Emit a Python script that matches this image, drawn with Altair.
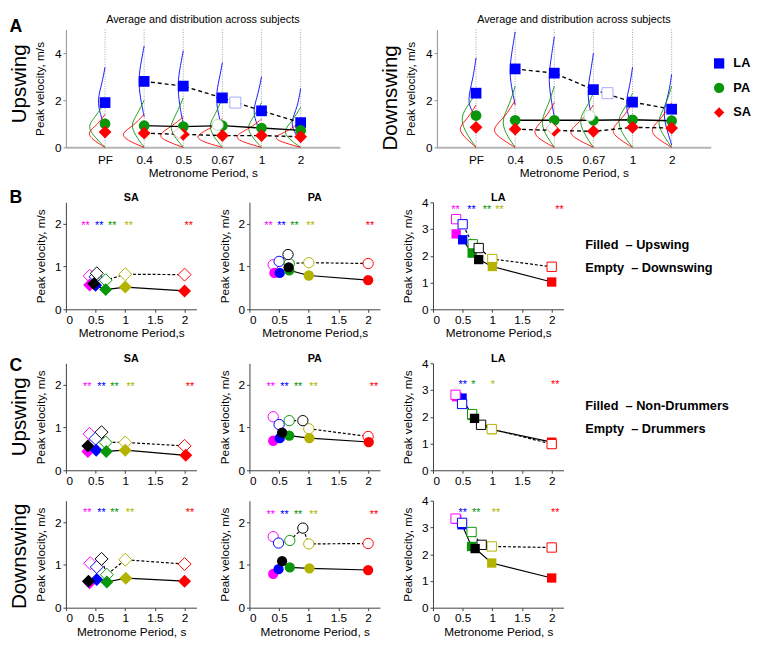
import altair as alt
import pandas as pd

FONT = "Liberation Sans"
BLUE = "#0000ff"
GREEN = "#0a960a"
RED = "#ff0000"
MAGENTA = "#ff00ff"
OLIVE = "#b3b300"
BLACK = "#000000"

# ---------------- Panel A: averages ----------------
A_categories = ["PF", "0.4", "0.5", "0.67", "1", "2"]
A_arms = ["LA", "PA", "SA"]
A_up_LA = [1.9, 2.8, 2.6, 2.1, 1.55, 1.05]
A_up_PA = [1.0, 0.92, 0.88, 0.92, 0.82, 0.72]
A_up_SA = [0.65, 0.6, 0.55, 0.5, 0.5, 0.45]
A_dn_LA = [2.3, 3.33, 3.15, 2.45, 1.92, 1.62]
A_dn_PA = [1.35, 1.15, 1.15, 1.15, 1.17, 1.13]
A_dn_SA = [0.85, 0.77, 0.72, 0.68, 0.85, 0.82]
# open (projected) markers
A_up_open_x = [4.33, 3.88, 2.88]
A_up_open_y = [1.9, 0.95, 0.6]
A_dn_open_x = [4.36, 3.9, 2.93]
A_dn_open_y = [2.3, 1.35, 0.82]
A_open_stroke = ["#a8a8ff", "#b8dcb8", "#ffb8b8"]

# distribution curves: (velocity, leftward width in category units), per category
A_up_curve_LA = [
    [(0.8, 0), (1.4, 0.12), (2.0, 0.2), (2.7, 0.08), (3.4, 0)],
    [(1.3, 0), (2.1, 0.1), (2.9, 0.15), (3.7, 0.07), (4.3, 0)],
    [(1.0, 0), (1.8, 0.1), (2.7, 0.15), (3.5, 0.07), (4.1, 0)],
    [(0.8, 0), (1.5, 0.12), (2.2, 0.17), (2.9, 0.08), (3.6, 0)],
    [(0.5, 0), (1.1, 0.15), (1.6, 0.22), (2.3, 0.08), (3.0, 0)],
    [(0.2, 0), (0.7, 0.18), (1.1, 0.25), (1.7, 0.08), (2.5, 0)],
]
A_up_curve_PA = [
    [(0, 0), (0.5, 0.3), (0.9, 0.45), (1.3, 0.25), (1.9, 0)],
    [(0, 0), (0.5, 0.22), (0.95, 0.35), (1.4, 0.18), (2.0, 0)],
    [(0, 0), (0.5, 0.25), (0.9, 0.35), (1.4, 0.18), (2.1, 0)],
    [(0, 0), (0.5, 0.25), (0.95, 0.35), (1.4, 0.18), (2.1, 0)],
    [(0, 0), (0.45, 0.25), (0.85, 0.38), (1.3, 0.2), (1.9, 0)],
    [(0, 0), (0.35, 0.3), (0.7, 0.45), (1.1, 0.22), (1.7, 0)],
]
A_up_curve_SA = [
    [(0, 0), (0.35, 0.35), (0.65, 0.45), (0.95, 0.2), (1.4, 0)],
    [(0, 0), (0.3, 0.45), (0.6, 0.6), (0.9, 0.28), (1.4, 0)],
    [(0, 0), (0.3, 0.5), (0.55, 0.65), (0.9, 0.28), (1.3, 0)],
    [(0, 0), (0.25, 0.55), (0.5, 0.7), (0.8, 0.3), (1.2, 0)],
    [(0, 0), (0.25, 0.55), (0.5, 0.7), (0.8, 0.3), (1.2, 0)],
    [(0, 0), (0.25, 0.55), (0.45, 0.7), (0.7, 0.3), (1.1, 0)],
]
A_dn_curve_LA = [
    [(1.2, 0), (1.6, 0.12), (2.0, 0.22), (2.9, 0.08), (3.8, 0)],
    [(1.8, 0), (2.6, 0.1), (3.3, 0.15), (4.2, 0.07), (4.9, 0)],
    [(1.3, 0), (2.2, 0.1), (3.0, 0.15), (3.9, 0.07), (4.7, 0)],
    [(1.0, 0), (1.7, 0.1), (2.4, 0.16), (3.2, 0.07), (4.0, 0)],
    [(0.8, 0), (1.4, 0.12), (1.9, 0.18), (2.6, 0.07), (3.4, 0)],
    [(0.1, 0), (0.9, 0.15), (1.5, 0.22), (2.3, 0.07), (3.1, 0)],
]
A_dn_curve_PA = [
    [(0, 0), (0.7, 0.3), (1.3, 0.4), (1.8, 0.2), (2.3, 0)],
    [(0, 0), (0.6, 0.25), (1.15, 0.35), (1.8, 0.15), (2.6, 0)],
    [(0, 0), (0.6, 0.25), (1.15, 0.35), (1.8, 0.15), (2.6, 0)],
    [(0, 0), (0.6, 0.25), (1.2, 0.38), (1.7, 0.17), (2.3, 0)],
    [(0, 0), (0.6, 0.28), (1.2, 0.4), (1.7, 0.18), (2.3, 0)],
    [(0, 0), (0.6, 0.25), (1.1, 0.38), (1.8, 0.15), (2.6, 0)],
]
A_dn_curve_SA = [
    [(0, 0), (0.5, 0.35), (0.85, 0.45), (1.25, 0.2), (1.8, 0)],
    [(0, 0), (0.45, 0.45), (0.8, 0.6), (1.3, 0.25), (2.0, 0)],
    [(0, 0), (0.4, 0.45), (0.75, 0.55), (1.25, 0.22), (1.9, 0)],
    [(0, 0), (0.4, 0.5), (0.7, 0.65), (1.2, 0.25), (1.8, 0)],
    [(0, 0), (0.45, 0.45), (0.8, 0.55), (1.3, 0.22), (1.9, 0)],
    [(0, 0), (0.45, 0.45), (0.8, 0.55), (1.3, 0.22), (1.9, 0)],
]

# ---------------- Panels B / C ----------------
# condition order: 0.4 (magenta), 0.5 (blue), 0.67 (green), 1 (olive), 2 (red), PF (black)
COND_COLORS = [MAGENTA, BLUE, GREEN, OLIVE, RED, BLACK]

B_SA_fill_x = [0.4, 0.5, 0.67, 1.0, 2.0, 0.47]
B_SA_fill_y = [0.57, 0.56, 0.46, 0.52, 0.43, 0.60]
B_SA_empty_x = [0.4, 0.5, 0.67, 1.0, 2.0, 0.52]
B_SA_empty_y = [0.78, 0.76, 0.68, 0.82, 0.81, 0.84]
B_SA_star_x = [0.33, 0.56, 0.78, 1.06, 2.07]
B_SA_star_y = 2.0
B_SA_star_t = ["**", "**", "**", "**", "**"]

B_PA_fill_x = [0.42, 0.51, 0.67, 1.0, 2.0, 0.66]
B_PA_fill_y = [0.85, 0.85, 0.91, 0.79, 0.68, 0.98]
B_PA_empty_x = [0.4, 0.5, 0.67, 1.0, 2.0, 0.65]
B_PA_empty_y = [1.04, 1.12, 1.07, 1.09, 1.07, 1.28]
B_PA_star_x = [0.32, 0.54, 0.76, 1.03, 2.03]
B_PA_star_y = 2.0
B_PA_star_t = ["**", "**", "**", "**", "**"]

B_LA_fill_x = [0.39, 0.5, 0.66, 1.0, 2.0, 0.77]
B_LA_fill_y = [2.82, 2.6, 2.1, 1.6, 1.02, 1.86]
B_LA_empty_x = [0.39, 0.5, 0.67, 1.0, 2.0, 0.77]
B_LA_empty_y = [3.37, 3.18, 2.43, 1.88, 1.59, 2.29]
B_LA_star_x = [0.38, 0.65, 0.91, 1.12, 2.13]
B_LA_star_y = 3.8
B_LA_star_t = ["**", "**", "**", "**", "**"]

C1_SA_fill_x = [0.37, 0.51, 0.68, 1.0, 2.02, 0.37]
C1_SA_fill_y = [0.44, 0.47, 0.44, 0.47, 0.35, 0.57]
C1_SA_empty_x = [0.4, 0.5, 0.67, 1.0, 2.0, 0.6]
C1_SA_empty_y = [0.85, 0.74, 0.65, 0.65, 0.57, 0.89]
C1_SA_star_x = [0.36, 0.6, 0.82, 1.09, 2.09]
C1_SA_star_y = 2.0
C1_SA_star_t = ["**", "**", "**", "**", "**"]

C1_PA_fill_x = [0.4, 0.51, 0.67, 1.01, 2.01, 0.55]
C1_PA_fill_y = [0.69, 0.75, 0.81, 0.75, 0.66, 0.88]
C1_PA_empty_x = [0.4, 0.5, 0.67, 1.0, 2.0, 0.9]
C1_PA_empty_y = [1.25, 1.07, 1.16, 0.97, 0.79, 1.16]
C1_PA_star_x = [0.36, 0.59, 0.82, 1.08, 2.1]
C1_PA_star_y = 2.0
C1_PA_star_t = ["**", "**", "**", "**", "**"]

C1_LA_fill_x = [0.4, 0.49, 0.66, 1.0, 2.0, 0.7]
C1_LA_fill_y = [2.75, 2.7, 2.05, 1.52, 1.05, 1.94]
C1_LA_empty_x = [0.38, 0.49, 0.66, 0.99, 2.0, 0.81]
C1_LA_empty_y = [2.82, 2.48, 2.1, 1.54, 0.98, 1.7]
C1_LA_star_x = [0.38, 0.5, 0.68, 1.01, 2.06]
C1_LA_star_y = 3.25
C1_LA_star_t = ["", "**", "*", "*", "**"]

C2_SA_fill_x = [0.4, 0.52, 0.69, 1.01, 2.0, 0.38]
C2_SA_fill_y = [0.58, 0.66, 0.6, 0.69, 0.62, 0.62]
C2_SA_empty_x = [0.41, 0.52, 0.69, 1.0, 2.0, 0.6]
C2_SA_empty_y = [1.04, 0.95, 0.77, 1.12, 1.02, 1.14]
C2_SA_star_x = [0.36, 0.6, 0.82, 1.08, 2.09]
C2_SA_star_y = 2.25
C2_SA_star_t = ["**", "**", "**", "**", "**"]

C2_PA_fill_x = [0.4, 0.49, 0.68, 1.01, 2.0, 0.55]
C2_PA_fill_y = [0.79, 0.9, 0.94, 0.92, 0.88, 1.09]
C2_PA_empty_x = [0.4, 0.49, 0.68, 1.0, 2.0, 0.9]
C2_PA_empty_y = [1.66, 1.51, 1.57, 1.49, 1.5, 1.86]
C2_PA_star_x = [0.36, 0.59, 0.82, 1.08, 2.1]
C2_PA_star_y = 2.22
C2_PA_star_t = ["**", "**", "**", "**", "**"]

C2_LA_fill_x = [0.4, 0.49, 0.65, 0.99, 2.0, 0.71]
C2_LA_fill_y = [3.3, 3.1, 2.29, 1.67, 1.11, 2.21]
C2_LA_empty_x = [0.38, 0.49, 0.65, 0.99, 2.0, 0.82]
C2_LA_empty_y = [3.33, 3.17, 2.83, 2.29, 2.25, 2.35]
C2_LA_star_x = [0.38, 0.5, 0.73, 1.06, 2.06]
C2_LA_star_y = 3.63
C2_LA_star_t = ["", "**", "**", "**", "**"]

# ---------------- layout constants ----------------
W_A, H_A = 279, 120
W_B, H_B = 133, 109
LETTER_X = -51
ROWLAB_X = -47


def one(text):
    return pd.DataFrame({"t": [text]})


def text_layer(text, x, y, size, weight="normal", angle=0, align="center"):
    kw = dict(font=FONT, fontSize=size, fontWeight=weight, align=align, baseline="middle",
              color="black")
    if angle:
        kw["angle"] = angle
    return alt.Chart(one(text)).mark_text(**kw).encode(
        x=alt.value(x), y=alt.value(y), text="t:N")


# ---------------- Panel A builder ----------------
def a_panel(LA, PA, SA, curves, ox, oy, row_label, row_frac, letter, legend):
    X = alt.X("x:Q", title="Metronome Period, s",
              scale=alt.Scale(domain=[0, 7], nice=False, zero=False),
              axis=alt.Axis(values=[1, 2, 3, 4, 5, 6],
                            labelExpr="['','PF','0.4','0.5','0.67','1','2'][datum.value]",
                            ticks=False, domainColor="#b4b4b4", domainWidth=2,
                            labelFontSize=12, labelPadding=7, titleFontSize=12,
                            titleFontWeight="normal", titlePadding=3, grid=False))
    Y = alt.Y("y:Q", title="Peak velocity, m/s",
              scale=alt.Scale(domain=[0, 5], nice=False),
              axis=alt.Axis(values=[0, 2, 4], format="d", tickSize=3,
                            domainColor="#909090", tickColor="#909090",
                            labelFontSize=12, labelPadding=2, titleFontSize=12,
                            titleFontWeight="normal", titlePadding=8, grid=False))
    guides = alt.Chart(pd.DataFrame({"x": [1, 2, 3, 4, 5, 6]})).mark_rule(
        color="#8c8c8c", strokeDash=[1, 1.5], strokeWidth=0.8
    ).encode(x=X, y=alt.value(0), y2=alt.value(H_A))

    rows = []
    for arm, col in zip(A_arms, [BLUE, GREEN, RED]):
        for i, curve in enumerate(curves[arm]):
            for k, (yy, w) in enumerate(curve):
                rows.append({"cid": f"{arm}{i}", "k": k, "x": i + 1 - w, "y": yy, "col": col})
    cdf = pd.DataFrame(rows)
    curv = alt.Chart(cdf).mark_line(strokeWidth=0.9, interpolate="basis").encode(
        x=X, y=Y, detail="cid:N", order="k:Q", stroke=alt.Stroke("col:N", scale=None))

    mrows = []
    for arm, vals in zip(A_arms, [LA, PA, SA]):
        for i, v in enumerate(vals):
            mrows.append({"arm": arm, "x": i + 1, "y": v})
    mdf = pd.DataFrame(mrows)
    dashed = alt.Chart(mdf[(mdf.arm != "PA") & (mdf.x >= 2)]).mark_line(
        color="black", strokeDash=[4, 3], strokeWidth=1.4).encode(x=X, y=Y, detail="arm:N")
    solid = alt.Chart(mdf[(mdf.arm == "PA") & (mdf.x >= 2)]).mark_line(
        color="black", strokeWidth=1.4).encode(x=X, y=Y)

    if legend:
        leg = alt.Legend(title=None, orient="none", legendX=W_A + 2, legendY=28,
                         symbolSize=110, labelFontSize=13, labelFontWeight="bold",
                         labelFont=FONT, labelColor="black", rowPadding=11,
                         labelOffset=8, symbolStrokeWidth=0)
    else:
        leg = None
    color = alt.Color("arm:N", scale=alt.Scale(domain=A_arms, range=[BLUE, GREEN, RED]), legend=leg)
    shape = alt.Shape("arm:N", scale=alt.Scale(domain=A_arms, range=["square", "circle", "diamond"]), legend=leg)
    sdf = mdf[mdf.arm != "SA"]
    ddf = mdf[mdf.arm == "SA"]
    pts = alt.Chart(sdf).mark_point(filled=True, opacity=1, size=120, strokeWidth=0).encode(
        x=X, y=Y, color=color, shape=shape)
    dia = alt.Chart(ddf).mark_point(filled=True, opacity=1, size=170, strokeWidth=0).encode(
        x=X, y=Y, color=color, shape=shape)
    odf = pd.DataFrame({"arm": A_arms, "x": ox, "y": oy, "sc": A_open_stroke})
    opn = alt.Chart(odf).mark_point(filled=True, fill="white", opacity=1, size=125, strokeWidth=1).encode(
        x=X, y=Y, shape=shape, stroke=alt.Stroke("sc:N", scale=None))

    layers = [guides, curv, dashed, solid, pts, dia, opn,
              text_layer(row_label, ROWLAB_X, H_A * row_frac, 21, angle=270),
              text_layer("Average and distribution across subjects", W_A / 2, -10, 11)]
    if letter:
        layers.append(text_layer(letter, LETTER_X, -3, 18, weight="bold"))
    return alt.layer(*layers).properties(width=W_A, height=H_A)


# ---------------- Panels B / C builder ----------------
SHAPES = {"SA": "diamond", "PA": "circle", "LA": "square"}
SIZES = {"SA": 175, "PA": 110, "LA": 90}


def bc_panel(arm, fx, fy, ex, ey, sx, sy, st, title=None, xtitle=None,
             letter=None, letter_dy=0, row_label=None, row_frac=0.5,
             legend_texts=None, empties_on_top=False):
    ydom = [0, 4] if arm == "LA" else [0, 2.5]
    yvals = [0, 1, 2, 3, 4] if arm == "LA" else [0, 1, 2]
    X = alt.X("x:Q", title=xtitle,
              scale=alt.Scale(domain=[0, 2.2], nice=False, zero=False),
              axis=alt.Axis(values=[0, 0.5, 1, 1.5, 2], format="~g", tickSize=3,
                            labelPadding=2, domainColor="#404040", tickColor="#404040",
                            labelFontSize=12, titleFontSize=12, titleFontWeight="normal",
                            titlePadding=3, grid=False))
    Y = alt.Y("y:Q", title="Peak velocity, m/s",
              scale=alt.Scale(domain=ydom, nice=False),
              axis=alt.Axis(values=yvals, format="d", tickSize=3, labelPadding=2,
                            domainColor="#404040", tickColor="#404040",
                            labelFontSize=12, titleFontSize=12, titleFontWeight="normal",
                            titlePadding=7, grid=False))
    shape = SHAPES[arm]
    size = SIZES[arm]
    fdf = pd.DataFrame({"x": fx, "y": fy, "c": COND_COLORS})
    edf = pd.DataFrame({"x": ex, "y": ey, "c": COND_COLORS})
    solid = alt.Chart(fdf).mark_line(color="black", strokeWidth=1.2).encode(x=X, y=Y)
    dashed = alt.Chart(edf).mark_line(color="black", strokeWidth=1.2, strokeDash=[3, 2]).encode(x=X, y=Y)

    def filled(df):
        return alt.Chart(df).mark_point(shape=shape, filled=True, size=size, opacity=1,
                                        strokeWidth=0).encode(
            x=X, y=Y, fill=alt.Fill("c:N", scale=None))

    def empty(df):
        return alt.Chart(df).mark_point(shape=shape, filled=True, fill="white", size=size,
                                        opacity=1, strokeWidth=1).encode(
            x=X, y=Y, stroke=alt.Stroke("c:N", scale=None))

    sdf = pd.DataFrame({"x": sx, "y": [sy] * len(sx), "t": st, "c": COND_COLORS[:5]})
    sdf = sdf[sdf.t != ""]
    stars = alt.Chart(sdf).mark_text(font=FONT, fontSize=11, baseline="middle", dy=2).encode(
        x=X, y=Y, text="t:N", fill=alt.Fill("c:N", scale=None))

    if empties_on_top:
        mid = [filled(fdf.iloc[:5]), empty(edf.iloc[:5])]
    else:
        mid = [empty(edf.iloc[:5]), filled(fdf.iloc[:5])]
    layers = [solid, dashed] + mid + [empty(edf.iloc[5:]), filled(fdf.iloc[5:]), stars]
    if title:
        layers.append(text_layer(title, W_B / 2, -4, 11, weight="bold"))
    if letter:
        layers.append(text_layer(letter, LETTER_X, letter_dy, 18, weight="bold"))
    if row_label:
        layers.append(text_layer(row_label, ROWLAB_X, H_B * row_frac, 21, angle=270))
    if legend_texts:
        for t, yy in zip(legend_texts, [44, 67]):
            layers.append(text_layer(t, 155, yy, 13, weight="bold", align="left"))
    return alt.layer(*layers).properties(width=W_B, height=H_B)


# ---------------- assemble ----------------
a_left = a_panel(A_up_LA, A_up_PA, A_up_SA,
                 {"LA": A_up_curve_LA, "PA": A_up_curve_PA, "SA": A_up_curve_SA},
                 A_up_open_x, A_up_open_y, "Upswing", 0.46, "A", False)
a_right = a_panel(A_dn_LA, A_dn_PA, A_dn_SA,
                  {"LA": A_dn_curve_LA, "PA": A_dn_curve_PA, "SA": A_dn_curve_SA},
                  A_dn_open_x, A_dn_open_y, "Downswing", 0.58, None, True)
rowA = alt.hconcat(a_left, a_right, spacing=41).resolve_scale(
    color="independent", shape="independent").resolve_legend(
    color="independent", shape="independent")

xt_b = "Metronome Period,s"
B_SA = bc_panel("SA", B_SA_fill_x, B_SA_fill_y, B_SA_empty_x, B_SA_empty_y,
                B_SA_star_x, B_SA_star_y, B_SA_star_t, title="SA", xtitle=xt_b,
                letter="B", letter_dy=-4)
B_PA = bc_panel("PA", B_PA_fill_x, B_PA_fill_y, B_PA_empty_x, B_PA_empty_y,
                B_PA_star_x, B_PA_star_y, B_PA_star_t, title="PA", xtitle=xt_b)
B_LA = bc_panel("LA", B_LA_fill_x, B_LA_fill_y, B_LA_empty_x, B_LA_empty_y,
                B_LA_star_x, B_LA_star_y, B_LA_star_t, title="LA", xtitle=xt_b,
                legend_texts=["Filled\u00a0 \u2013 Upswing", "Empty\u00a0 \u2013 Downswing"])
rowB = alt.hconcat(B_SA, B_PA, B_LA, spacing=22)

C1_SA = bc_panel("SA", C1_SA_fill_x, C1_SA_fill_y, C1_SA_empty_x, C1_SA_empty_y,
                 C1_SA_star_x, C1_SA_star_y, C1_SA_star_t, title="SA",
                 letter="C", letter_dy=3, row_label="Upswing", row_frac=0.5)
C1_PA = bc_panel("PA", C1_PA_fill_x, C1_PA_fill_y, C1_PA_empty_x, C1_PA_empty_y,
                 C1_PA_star_x, C1_PA_star_y, C1_PA_star_t, title="PA")
C1_LA = bc_panel("LA", C1_LA_fill_x, C1_LA_fill_y, C1_LA_empty_x, C1_LA_empty_y,
                 C1_LA_star_x, C1_LA_star_y, C1_LA_star_t, title="LA",
                 legend_texts=["Filled\u00a0 \u2013 Non-Drummers", "Empty\u00a0 \u2013 Drummers"],
                 empties_on_top=True)
rowC1 = alt.hconcat(C1_SA, C1_PA, C1_LA, spacing=22)

xt_c = "Metronome Period, s"
C2_SA = bc_panel("SA", C2_SA_fill_x, C2_SA_fill_y, C2_SA_empty_x, C2_SA_empty_y,
                 C2_SA_star_x, C2_SA_star_y, C2_SA_star_t, xtitle=xt_c,
                 row_label="Downswing", row_frac=0.52)
C2_PA = bc_panel("PA", C2_PA_fill_x, C2_PA_fill_y, C2_PA_empty_x, C2_PA_empty_y,
                 C2_PA_star_x, C2_PA_star_y, C2_PA_star_t, xtitle=xt_c)
C2_LA = bc_panel("LA", C2_LA_fill_x, C2_LA_fill_y, C2_LA_empty_x, C2_LA_empty_y,
                 C2_LA_star_x, C2_LA_star_y, C2_LA_star_t, xtitle=xt_c,
                 empties_on_top=True)
rowC2 = alt.hconcat(C2_SA, C2_PA, C2_LA, spacing=22)

chart = alt.vconcat(
    rowA,
    alt.vconcat(rowB, alt.vconcat(rowC1, rowC2, spacing=9), spacing=15),
    spacing=11,
).properties(padding=0).configure_view(stroke=None).configure_axis(
    labelFont=FONT, titleFont=FONT, labelColor="black", titleColor="black", grid=False
).configure_title(font=FONT, color="black")

chart.save("out.html", embed_options={"renderer": "svg", "actions": False})
